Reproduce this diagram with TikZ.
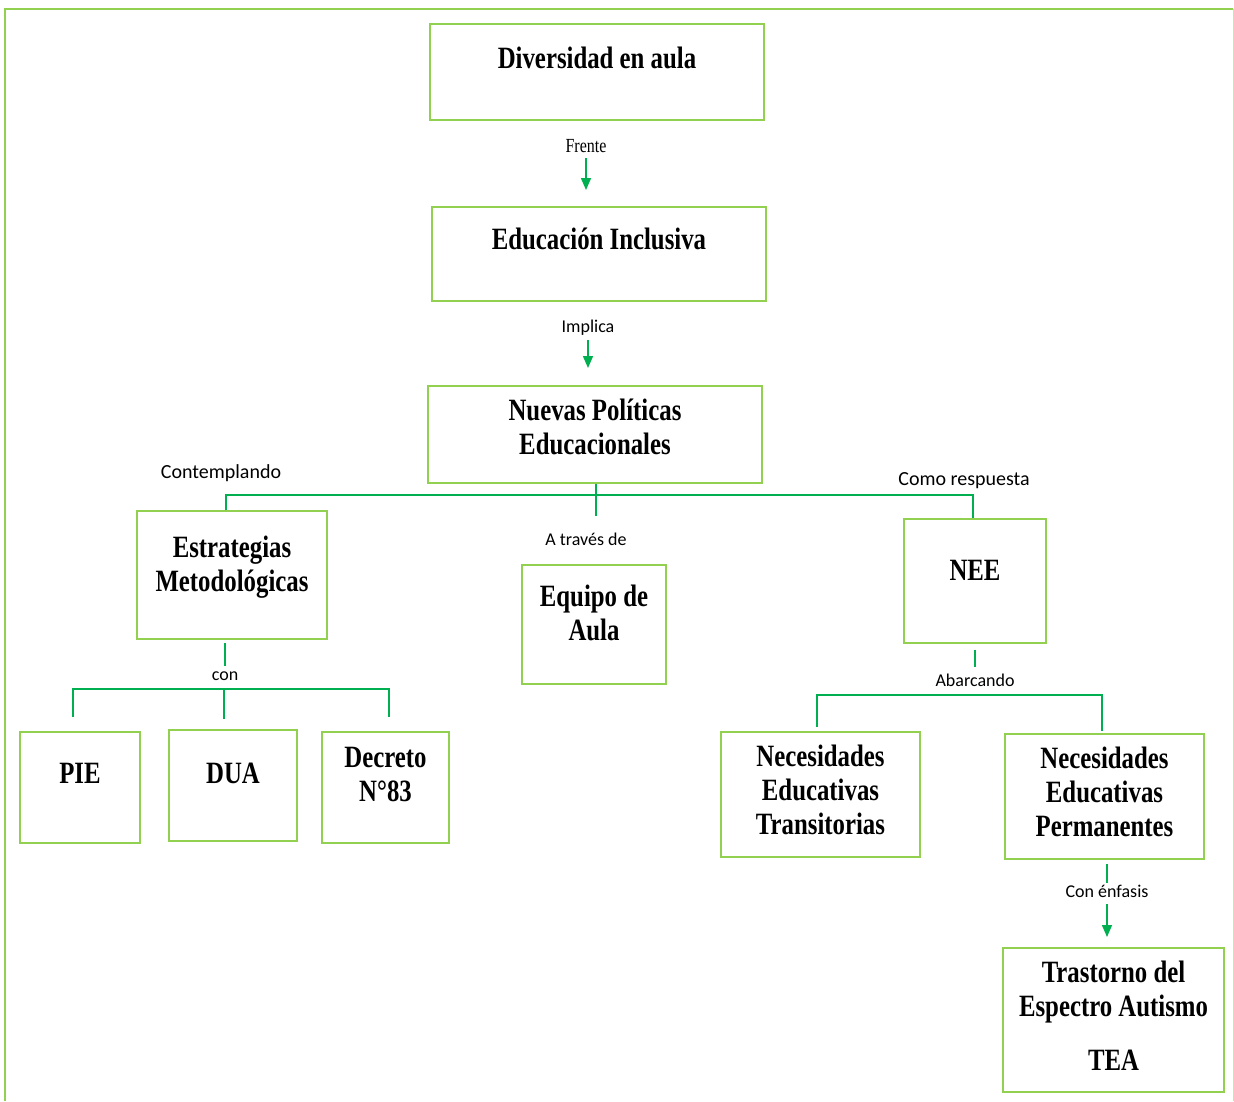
\documentclass[tikz,border=0pt]{standalone}
\usepackage{fontspec}
\setmainfont{Liberation Serif}[FakeStretch=0.8]
\newfontfamily\lblfont{Carlito}
\usepackage{tikz}
\usetikzlibrary{arrows.meta}
\usetikzlibrary{positioning}

\definecolor{boxgreen}{HTML}{92D050}
\definecolor{lnkgreen}{HTML}{00B050}
\newcommand{\boxfnt}{\fontsize{31}{34}\selectfont\bfseries}

\begin{document}
\begin{tikzpicture}[x=1pt,y=-1pt,
  box/.style={draw=boxgreen,line width=1.6pt,anchor=north,inner ysep=0pt,align=center,font=\boxfnt},
  conn/.style={draw=lnkgreen,line width=1.5pt},
  arr/.style={conn,-{Triangle[width=10pt,length=12pt]}},
  lbl/.style={inner sep=1pt,font=\lblfont\fontsize{18}{20}\selectfont},
  biglbl/.style={inner sep=1pt,font=\lblfont\fontsize{20}{22}\selectfont}]
\useasboundingbox (0,0) rectangle (1234,1101);
% frame
\draw[boxgreen,line width=2pt] (5,1101) -- (5,9) -- (1233,9);
\draw[boxgreen!50,line width=1pt] (1233,9) -- (1233,1101);

% boxes
\node[box,minimum width=334pt,text height=45pt,text depth=51pt] (div) at (597,23) {Diversidad en aula};
\node[box,minimum width=334pt,text height=43pt,text depth=51pt] (edu) at (599,206) {Educación Inclusiva};
\node[box,minimum width=334pt,text height=69pt,text depth=28pt] (nuev) at (595,385) {Nuevas Políticas\\Educacionales};
\node[box,minimum width=190pt,text height=81pt,text depth=47pt] (estr) at (232,510) {Estrategias\\Metodológicas};
\node[box,minimum width=144pt,text height=76pt,text depth=43pt] (equi) at (594,564) {Equipo de\\Aula};
\node[box,minimum width=142pt,text height=62pt,text depth=62pt] (nee) at (975,518) {NEE};
\node[box,minimum width=120pt,text height=52pt,text depth=59pt] (pie) at (80,731) {PIE};
\node[box,minimum width=128pt,text height=54pt,text depth=57pt] (dua) at (233,729) {DUA};
\node[box,minimum width=127pt,text height=70pt,text depth=41pt] (dec) at (385.5,731) {Decreto\\N°83};
\node[box,minimum width=199pt,text height=103pt,text depth=22pt] (net) at (820.5,731) {Necesidades\\Educativas\\Transitorias};
\node[box,minimum width=199pt,text height=103pt,text depth=22pt] (nep) at (1104.5,733) {Necesidades\\Educativas\\Permanentes};
\node[box,minimum width=221pt,text height=123pt,text depth=21pt] (tea) at (1113.5,947) {Trastorno del\\Espectro Autismo\\[20pt]TEA};

% labels
\node[inner sep=1pt,font=\fontsize{20}{22}\selectfont] (frente) at (586,146) {Frente};
\node[lbl] (impl) at (588,328) {Implica};
\node[biglbl] (contem) at (221,473) {Contemplando};
\node[biglbl] (comor) at (964,481) {Como respuesta};
\node[lbl] (atrav) at (586,539) {A través de};
\node[lbl] (con) at (225,676) {con};
\node[lbl] (abar) at (975,680) {Abarcando};
\node[lbl] (enf) at (1107,891) {Con énfasis};

% connectors
\draw[arr,shorten <=4pt,shorten >=16pt] (frente.south) -- (frente.south |- edu.north);
\draw[arr,shorten <=3pt,shorten >=17pt] (impl.south) -- (impl.south |- nuev.north);

\coordinate (hubN) at (596,495);
\coordinate (endN) at (596,516);
\draw[conn] (nuev.south -| hubN) -- (endN);
\draw[conn] ([xshift=-6pt]estr.north) |- (hubN) -| ([xshift=-2pt]nee.north);

\coordinate (hubE) at (224,689);
\draw[conn,shorten >=4pt] ([yshift=-3pt]estr.south -| con.north) -- (con.north);
\draw[conn] ([xshift=-7pt,yshift=14pt]pie.north) |- (hubE) -| ([xshift=3.5pt,yshift=14pt]dec.north);
\draw[conn] (hubE) -- ([xshift=-9pt,yshift=10pt]dua.north);

\coordinate (hubA) at (975,695);
\draw[conn,shorten >=5pt] ([yshift=-6pt]nee.south) -- (abar.north);
\draw[conn] ([xshift=-3.5pt,yshift=4pt]net.north) |- (hubA) -| ([xshift=-2.5pt,yshift=2pt]nep.north);

\draw[conn,shorten >=1pt] ([xshift=2.5pt,yshift=-4pt]nep.south) -- (enf.north);
\draw[arr,shorten <=6pt,shorten >=10pt] (enf.south) -- (enf.south |- tea.north);

\end{tikzpicture}
\end{document}
